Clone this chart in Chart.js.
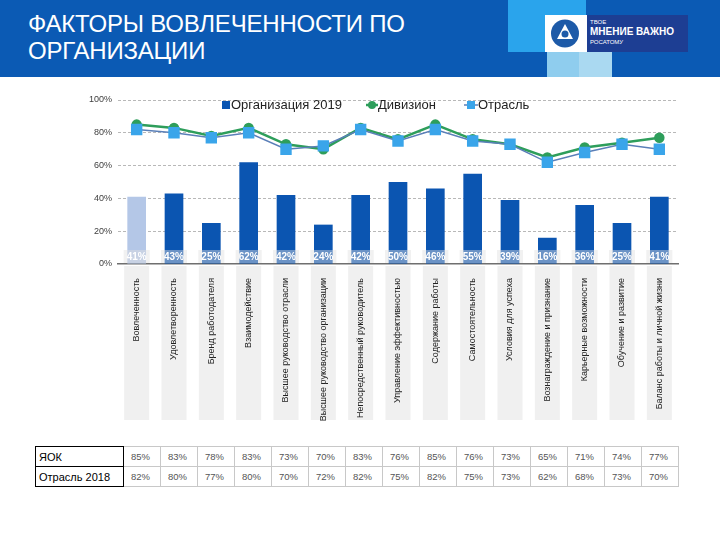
<!DOCTYPE html>
<html>
<head>
<meta charset="utf-8">
<script src="https://cdn.jsdelivr.net/npm/chart.js@4.4.0/dist/chart.umd.min.js"></script>
<style>
	body { margin: 0; width: 720px; height: 540px; background: #fff; position: relative; overflow: hidden; font-family: "Liberation Sans", Arial, sans-serif; }
	#band { position: absolute; left: 0; top: 0; width: 720px; height: 77px; background: #0b5ab4; }
	#title { position: absolute; left: 28px; top: 10px; color: #fff; font-size: 24px; line-height: 27px; letter-spacing: -0.2px; }
	.sq { position: absolute; }
	#logo { position: absolute; left: 545px; top: 15px; width: 143px; height: 37px; background: #fff; }
	#logo .txt { position: absolute; left: 42px; top: 0; width: 101px; height: 37px; background: #1d3e93; color: #fff; }
	#chartBox { position: absolute; left: 0; top: 85px; width: 720px; height: 345px; }
	table { position: absolute; left: 35px; top: 446px; border-collapse: collapse; table-layout: fixed; width: 643px; }
	td { box-sizing: border-box; border: 1px solid #c8c8c8; height: 20px; padding: 0 0 0 7px; font-size: 9.5px; color: #555; width: 37px; overflow: hidden; white-space: nowrap; }
	td.name { border: 1.5px solid #000; width: 88px; font-size: 11px; color: #000; padding-left: 3px; }
</style>
</head>
<body>
<div id="band"></div>
<div class="sq" style="left:508px;top:0;width:78px;height:52px;background:#2aa4ec"></div>
<div class="sq" style="left:547px;top:52px;width:32px;height:25px;background:#8fcdee"></div>
<div class="sq" style="left:579px;top:52px;width:33px;height:25px;background:#aad9f1"></div>
<div id="title">ФАКТОРЫ ВОВЛЕЧЕННОСТИ ПО<br>ОРГАНИЗАЦИИ</div>
<div id="logo">
	<svg width="42" height="37" style="position:absolute;left:0;top:0">
		<circle cx="20" cy="18.5" r="14" fill="#1d5aa8"/>
		<polygon points="20,9 28,24 12,24" fill="#fff"/>
		<circle cx="20" cy="19" r="3.5" fill="#1d5aa8"/>
	</svg>
	<div class="txt">
		<div style="position:absolute;left:3px;top:4px;font-size:6px;">ТВОЕ</div>
		<div style="position:absolute;left:3px;top:11px;font-size:10px;font-weight:bold;">МНЕНИЕ ВАЖНО</div>
		<div style="position:absolute;left:3px;top:24px;font-size:6px;">РОСАТОМУ</div>
	</div>
</div>
<div id="chartBox"><canvas id="chart"></canvas></div>
<table id="tbl"></table>
<script>
// categories
var categories = ["Вовлеченность", "Удовлетворенность", "Бренд работодателя", "Взаимодействие",
	"Высшее руководство отрасли", "Высшее руководство организации", "Непосредственный руководитель",
	"Управление эффективностью", "Содержание работы", "Самостоятельность", "Условия для успеха",
	"Вознаграждение и признание", "Карьерные возможности", "Обучение и развитие",
	"Баланс работы и личной жизни"];

// series values, %
var org2019 = [41, 43, 25, 62, 42, 24, 42, 50, 46, 55, 39, 16, 36, 25, 41];
var division = [85, 83, 78, 83, 73, 70, 83, 76, 85, 76, 73, 65, 71, 74, 77];
var industry = [82, 80, 77, 80, 70, 72, 82, 75, 82, 75, 73, 62, 68, 73, 70];

var yTicks = [0, 20, 40, 60, 80, 100];

// table rows
var tableRows = [
	{ name: "ЯОК", values: division },
	{ name: "Отрасль 2018", values: industry }
];

var tbl = document.getElementById("tbl");
tableRows.forEach(function (row) {
	var tr = document.createElement("tr");
	var th = document.createElement("td");
	th.className = "name";
	th.textContent = row.name;
	tr.appendChild(th);
	row.values.forEach(function (v) {
		var td = document.createElement("td");
		td.textContent = v + "%";
		tr.appendChild(td);
	});
	tbl.appendChild(tr);
});

var barColors = org2019.map(function (v, i) { return i === 0 ? "#b4c7e7" : "#0b55b1"; });

// grey columns behind the rotated category names
var labelColumns = {
	id: "labelColumns",
	beforeDraw: function (chart) {
		var ctx = chart.ctx, x = chart.scales.x, area = chart.chartArea;
		ctx.save();
		ctx.fillStyle = "#f0f0f0";
		for (var i = 0; i < categories.length; i++) {
			var cx = x.getPixelForValue(i);
			ctx.fillRect(cx - 12.5, area.bottom + 2, 25, 333 - area.bottom);
		}
		ctx.restore();
	}
};

// value labels at the foot of each bar
var barLabels = {
	id: "barLabels",
	afterDatasetsDraw: function (chart) {
		var ctx = chart.ctx, meta = chart.getDatasetMeta(0), y0 = chart.scales.y.getPixelForValue(0);
		ctx.save();
		ctx.font = "bold 10px 'Liberation Sans', Arial";
		ctx.textAlign = "center";
		ctx.textBaseline = "middle";
		meta.data.forEach(function (bar, i) {
			ctx.fillStyle = "rgba(225,225,225,0.45)";
			ctx.fillRect(bar.x - 13, y0 - 14, 26, 13);
			ctx.fillStyle = "#fff";
			ctx.fillText(org2019[i] + "%", bar.x, y0 - 7);
		});
		ctx.restore();
	}
};

// legend drawn over the top gridline
var overLegend = {
	id: "overLegend",
	afterDraw: function (chart) {
		var ctx = chart.ctx, y = 20;
		ctx.save();
		ctx.font = "13px 'Liberation Sans', Arial";
		ctx.textBaseline = "middle";
		ctx.fillStyle = "#0b55b1";
		ctx.fillRect(222, y - 4, 8, 8);
		ctx.fillStyle = "#222";
		ctx.fillText("Организация 2019", 231, y);

		ctx.strokeStyle = "#2e9e5b";
		ctx.lineWidth = 2.5;
		ctx.beginPath(); ctx.moveTo(366, y); ctx.lineTo(378, y); ctx.stroke();
		ctx.fillStyle = "#2e9e5b";
		ctx.beginPath(); ctx.arc(372, y, 4, 0, Math.PI * 2); ctx.fill();
		ctx.fillStyle = "#222";
		ctx.fillText("Дивизион", 378, y);

		ctx.strokeStyle = "#5a7fb8";
		ctx.lineWidth = 1.5;
		ctx.beginPath(); ctx.moveTo(464, y); ctx.lineTo(478, y); ctx.stroke();
		ctx.fillStyle = "#3aa5ea";
		ctx.fillRect(467, y - 4, 8, 8);
		ctx.fillStyle = "#222";
		ctx.fillText("Отрасль", 478, y);
		ctx.restore();
	}
};

var config = {
	type: "bar",
	data: {
		labels: categories,
		datasets: [{
			label: "Организация 2019",
			data: org2019,
			backgroundColor: barColors,
			barPercentage: 0.5,
			categoryPercentage: 1,
			order: 3
		}, {
			type: "line",
			label: "Дивизион",
			data: division,
			borderColor: "#2e9e5b",
			backgroundColor: "#2e9e5b",
			borderWidth: 2.5,
			pointStyle: "circle",
			pointRadius: 4,
			order: 2
		}, {
			type: "line",
			label: "Отрасль",
			data: industry,
			borderColor: "#5a7fb8",
			backgroundColor: "#3aa5ea",
			pointBorderColor: "#3aa5ea",
			borderWidth: 1.5,
			pointStyle: "rect",
			pointRadius: 7,
			order: 1
		}]
	},
	options: {
		responsive: true,
		maintainAspectRatio: false,
		animation: false,
		layout: { padding: { top: 15, right: 42, left: 0, bottom: 0 } },
		plugins: { legend: { display: false }, tooltip: { enabled: false } },
		scales: {
			x: {
				grid: { display: false },
				border: { color: "#6f6f6f", width: 1.5 },
				ticks: {
					minRotation: 90, maxRotation: 90, autoSkip: false, padding: 6,
					font: { size: 9, family: "'Liberation Sans', Arial" }, color: "#222"
				},
				afterFit: function (scale) { scale.height = 166; }
			},
			y: {
				min: 0, max: 100,
				afterBuildTicks: function (scale) { scale.ticks = yTicks.map(function (v) { return { value: v }; }); },
				grid: {
					drawTicks: false,
					color: function (c) { return c.tick && c.tick.value === 0 ? "rgba(0,0,0,0)" : "#b8b8b8"; }
				},
				border: { display: false, dash: [3, 2] },
				ticks: {
					padding: 6,
					font: { size: 9, family: "'Liberation Sans', Arial" }, color: "#404040",
					callback: function (v) { return v + "%"; }
				},
				afterFit: function (scale) { scale.width = 118; }
			}
		}
	},
	plugins: [labelColumns, barLabels, overLegend]
};

new Chart(document.getElementById("chart"), config);
</script>
</body>
</html>
